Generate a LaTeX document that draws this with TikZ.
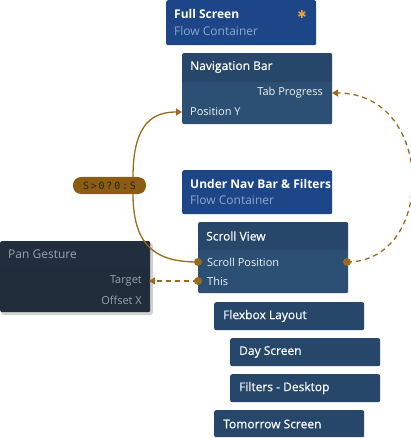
\documentclass[tikz,border=0pt]{standalone}
\usepackage{fontspec}
\setmainfont{Open Sans}
\newfontfamily\medfont[FakeBold=0.5]{Open Sans}
\newfontfamily\symfont{DejaVu Sans}
\newfontfamily\exprfont[LetterSpace=18]{DejaVu Sans Mono}
\usetikzlibrary{arrows.meta}
\definecolor{flowblue}{HTML}{1D4689}
\definecolor{navhead}{HTML}{26476A}
\definecolor{navbody}{HTML}{2C5073}
\definecolor{pandark}{HTML}{212E3E}
\definecolor{panbody}{HTML}{202C3A}
\definecolor{subtext}{HTML}{8EA6CB}
\definecolor{pantext}{HTML}{9AA3AE}
\definecolor{wire}{HTML}{9A6A1F}
\definecolor{exprfill}{HTML}{8B5C12}
\definecolor{starorange}{HTML}{E9A23B}
\tikzset{
  panel/.style={draw=none, rounded corners=2pt, anchor=north west, inner sep=0pt},
  bluebox/.style={panel, fill=flowblue, minimum width=150pt, minimum height=45pt},
  compbox/.style={panel, fill=navbody, minimum width=150pt,
    path picture={\fill[navhead] (path picture bounding box.north west)
      rectangle ([yshift=-#1]path picture bounding box.north east);}},
  listbox/.style={panel, fill=navhead, minimum width=150pt, minimum height=28pt},
  title/.style={anchor=west, inner sep=0pt, text=white, font=\medfont\fontsize{12}{14}\selectfont},
  boldtitle/.style={anchor=west, inner sep=0pt, text=white, font=\bfseries\fontsize{12}{14}\selectfont},
  subtitle/.style={anchor=west, inner sep=0pt, text=subtext, font=\fontsize{12}{14}\selectfont},
  port/.style={inner sep=0pt, text=white!92!navbody, font=\fontsize{11}{13}\selectfont},
  panport/.style={port, text=pantext},
  wireline/.style={draw=wire, line width=1.3pt},
  dashwire/.style={wireline, dash pattern=on 5pt off 4pt},
  tip/.style={-{Triangle[length=6pt,width=7pt]}},
  dot/.style={circle, fill=wire, inner sep=0pt, minimum size=8pt}
}
\begin{document}
\begin{tikzpicture}[x=1pt,y=-1pt]
\useasboundingbox (0,0) rectangle (411,438);

% Full Screen
\node[bluebox] (full) at (166,0) {};
\node[boldtitle] (fullT) at (174,14) {Full Screen};
\node[subtitle] (fullS) at (174,31) {Flow Container};
\node[inner sep=0pt, text=starorange, font=\symfont\fontsize{11}{11}\selectfont] (star) at (302,14) {✱};

% Navigation Bar
\node[compbox=29pt, minimum height=71pt] (nav) at (182,53) {};
\node[title] (navT) at (190,67) {Navigation Bar};
\node[port, anchor=east] (navTab) at (323,93) {Tab Progress};
\node[port, anchor=west] (navPos) at (190,112) {Position Y};
\coordinate (navTabIn) at (332,93);
\coordinate (navPosIn) at (182,112);

% Under Nav Bar & Filters
\node[bluebox, minimum height=44pt] (under) at (182,170) {};
\node[boldtitle] (underT) at (190,184) {Under Nav Bar \& Filters};
\node[subtitle] (underS) at (190,200) {Flow Container};

% Scroll View
\node[compbox=28pt, minimum height=71pt] (scroll) at (198,222) {};
\node[title] (scrollT) at (206,236) {Scroll View};
\node[port, anchor=west] (scrollPos) at (207,262) {Scroll Position};
\node[port, anchor=west] (scrollThis) at (207,281) {This};

% Pan Gesture
\fill[black, opacity=0.18, rounded corners=3pt] (1,243) rectangle (153,315);
\node[panel, fill=panbody, minimum width=150pt, minimum height=71pt,
  path picture={\fill[pandark] (path picture bounding box.north west)
    rectangle ([yshift=-28pt]path picture bounding box.north east);}] (pan) at (0,241) {};
\node[anchor=west, inner sep=0pt, text=pantext, font=\fontsize{12}{14}\selectfont] (panT) at (8,254) {Pan Gesture};
\node[panport, anchor=east] (panTarget) at (142,281) {Target};
\node[panport, anchor=east] (panOffset) at (142,300) {Offset X};
\coordinate (panTargetIn) at (149,281);

% Children list
\node[listbox] (flex) at (214,302) {};
\node[title] (flexT) at (223,316) {Flexbox Layout};
\node[listbox] (day) at (230,338) {};
\node[title] (dayT) at (239,352) {Day Screen};
\node[listbox] (filters) at (230,374) {};
\node[title] (filtersT) at (239,388) {Filters - Desktop};
\node[listbox, minimum height=27pt] (tomorrow) at (214,410) {};
\node[title] (tomorrowT) at (223,424) {Tomorrow Screen};

% Expression
\node[draw=none, fill=exprfill, rounded corners=8pt, minimum width=73pt, minimum height=17pt,
  inner sep=0pt, text=black!85, font=\exprfont\fontsize{10}{11}\selectfont] (expr) at (109.5,185.5) {S>0?0:S};

% Ports
\node[dot] (scrollPosL) at (198,262) {};
\node[dot] (scrollThisL) at (198,281) {};
\node[dot] (scrollPosR) at (347,262) {};

% Connections
\draw[wireline, tip] ([xshift=23.5pt]expr.north) .. controls (133,122) and (154,112) .. (navPosIn);
\draw[wireline] ([xshift=23.5pt]expr.south) .. controls (133,250) and (160,262) .. (scrollPosL.center);
\draw[dashwire, tip] (scrollThisL.center) -- (panTargetIn);
\draw[dashwire, tip] (scrollPosR.center) .. controls (436,262) and (436,93) .. (navTabIn);
\end{tikzpicture}
\end{document}
